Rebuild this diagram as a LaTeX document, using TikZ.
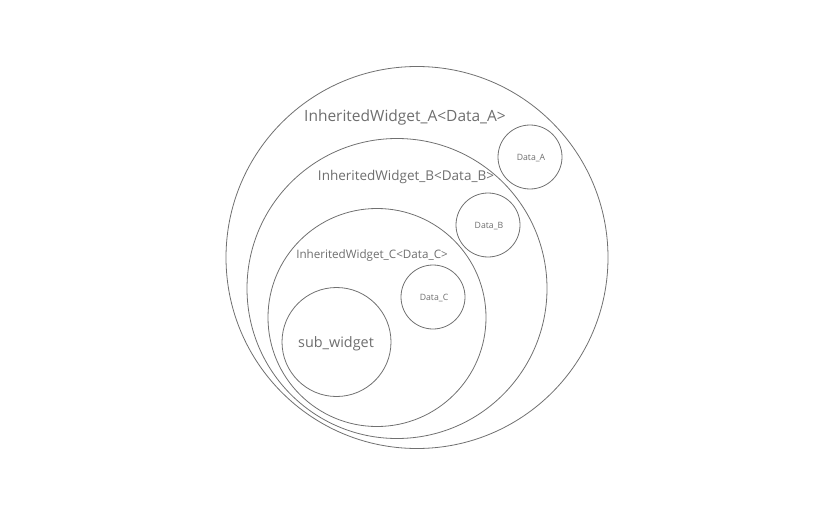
\documentclass[tikz,border=0pt]{standalone}
\usepackage{fontspec}
\setmainfont{Open Sans}
\definecolor{ln}{HTML}{707070}
\definecolor{tx}{HTML}{6E6E6E}
\begin{document}
\begin{tikzpicture}[x=1pt,y=-1pt,
  ring/.style={draw=ln,line width=0.8pt,circle,inner sep=0pt},
  lbl/.style={text=tx,inner sep=0pt,anchor=center}]
\useasboundingbox (0,0) rectangle (832,516);
\node[ring,minimum size=382pt] (A) at (417,257.5) {};
\node[ring,minimum size=300pt] (B) at (397,288.5) {};
\node[ring,minimum size=218pt] (C) at (377,317.5) {};
\node[ring,minimum size=109pt] (S) at (336.5,342) {};
\node[ring,minimum size=64pt] (DA) at (530,157) {};
\node[ring,minimum size=64pt] (DB) at (488,225) {};
\node[ring,minimum size=64pt] (DC) at (433,297) {};
\node[lbl,font=\fontsize{15.5}{17}\selectfont] (tA) at (405,117) {InheritedWidget\_A<Data\_A>};
\node[lbl,font=\fontsize{13.5}{15}\selectfont] (tB) at (406,177) {InheritedWidget\_B<Data\_B>};
\node[lbl,font=\fontsize{11.65}{13}\selectfont] (tC) at (372,255) {InheritedWidget\_C<Data\_C>};
\node[lbl,font=\fontsize{14.4}{16}\selectfont] (tS) at (336,344) {sub\_widget};
\node[lbl,font=\fontsize{8.7}{10}\selectfont] (tDA) at (531,158) {Data\_A};
\node[lbl,font=\fontsize{8.7}{10}\selectfont] (tDB) at (489,226) {Data\_B};
\node[lbl,font=\fontsize{8.7}{10}\selectfont] (tDC) at (434,298) {Data\_C};
\end{tikzpicture}
\end{document}
